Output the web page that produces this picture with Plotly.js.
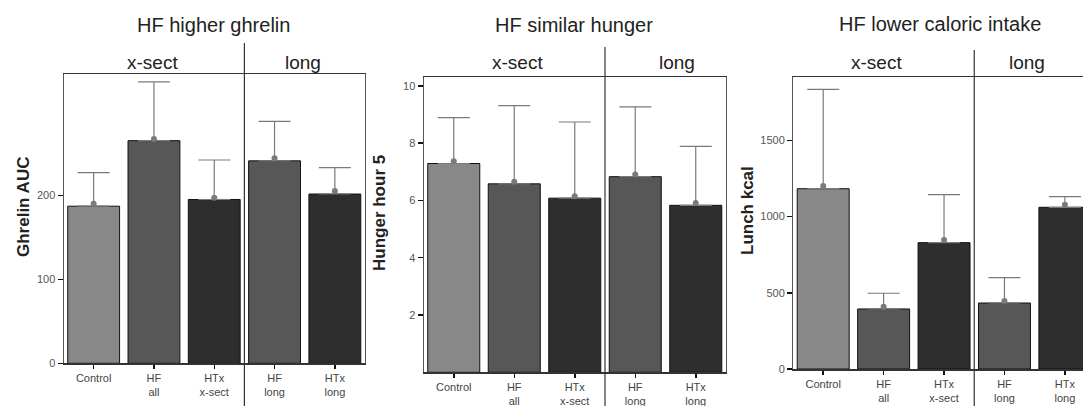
<!DOCTYPE html>
<html>
<head>
<meta charset="utf-8">
<script src="https://cdn.plot.ly/plotly-3.0.1.min.js"></script>
<style>html,body{margin:0;padding:0;background:#fff}#chart{width:1083px;height:406px}</style>
</head>
<body>
<div id="chart"></div>
<script>
const categories = ['Control', 'HF<br>all', 'HTx<br>x-sect', 'HF<br>long', 'HTx<br>long'];
const barColors = ['#888888', '#575757', '#2e2e2e', '#575757', '#2e2e2e'];

const panelTitles = ['HF higher ghrelin', 'HF similar hunger', 'HF lower caloric intake'];
const yTitles = ['Ghrelin AUC', 'Hunger hour 5', 'Lunch kcal'];
const groupLabels = ['x-sect', 'long'];

const ghrelinBar = [187, 265, 195, 241, 201.5];
const ghrelinDot = [190, 267, 197, 244, 205];
const ghrelinErrTop = [227, 335, 242, 288, 233];

const hungerBar = [7.29, 6.58, 6.08, 6.83, 5.83];
const hungerDot = [7.37, 6.65, 6.15, 6.91, 5.91];
const hungerErrTop = [8.89, 9.31, 8.74, 9.27, 7.89];

const kcalBar = [1183, 394, 829, 433, 1061];
const kcalDot = [1201, 409, 846, 446, 1078];
const kcalErrTop = [1835, 497, 1144, 599, 1131];

const yTicks = [[0, 100, 200], [2, 4, 6, 8, 10], [0, 500, 1000, 1500]];
const yRanges = [[0, 344], [0, 10.3], [0, 1914]];

const W = 1083, H = 406;
const px = v => v / W;
const py = v => (H - v) / H;

const panels = [
  {bar: ghrelinBar, dot: ghrelinDot, top: ghrelinErrTop, xd: [63.5, 365], yd: [363.3, 74.3], xr: [-0.5, 4.5],
   title: [213, 25], groups: [[152, 63], [303, 63]], ytitle: [23, 207], divTop: 43},
  {bar: hungerBar, dot: hungerDot, top: hungerErrTop, xd: [423.5, 726], yd: [372.3, 77.3], xr: [-0.5, 4.5],
   title: [574, 25], groups: [[517, 62], [677, 62]], ytitle: [379, 213], divTop: 47},
  {bar: kcalBar, dot: kcalDot, top: kcalErrTop, xd: [793, 1083], yd: [369, 77.3], xr: [-0.5, 4.3],
   title: [940, 24], groups: [[876, 62], [1027, 62]], ytitle: [747, 211], divTop: 50}
];

const FONT = 'Arial, "Liberation Sans", Helvetica, sans-serif';
const traces = [];
const layout = {
  width: W, height: H,
  margin: {l: 0, r: 0, t: 0, b: 0},
  paper_bgcolor: '#ffffff', plot_bgcolor: '#ffffff',
  showlegend: false,
  font: {family: FONT, color: '#333'},
  shapes: [], annotations: []
};

panels.forEach((p, i) => {
  const n = i === 0 ? '' : String(i + 1);
  const xa = 'x' + n, ya = 'y' + n;
  traces.push({
    type: 'bar', x: categories, y: p.bar, xaxis: xa, yaxis: ya,
    width: 0.86,
    marker: {color: barColors, line: {color: '#111', width: 1}},
    error_y: {type: 'data', symmetric: false,
      array: p.top.map((t, k) => t - p.bar[k]), arrayminus: p.bar.map(() => 0),
      color: '#7a7a7a', thickness: 1.2, width: 16},
    hoverinfo: 'skip'
  });
  traces.push({
    type: 'scatter', mode: 'markers', x: categories, y: p.dot, xaxis: xa, yaxis: ya,
    marker: {color: '#7a7a7a', size: 6}, hoverinfo: 'skip'
  });
  layout['xaxis' + n] = {
    domain: [px(p.xd[0]), Math.min(1, px(p.xd[1]))], anchor: ya, type: 'category',
    range: p.xr, showline: true, linecolor: '#333', linewidth: 1.5, mirror: true,
    ticks: 'outside', ticklen: 4, tickwidth: 1.5, tickcolor: '#111',
    tickfont: {size: 11, color: '#444', family: FONT}, showgrid: false, zeroline: false,
    fixedrange: true
  };
  layout['yaxis' + n] = {
    domain: [py(p.yd[0]), py(p.yd[1])], anchor: xa, range: yRanges[i],
    tickvals: yTicks[i], showline: true, linecolor: '#555', linewidth: 1, mirror: true,
    ticks: 'outside', ticklen: 5, tickwidth: 1.5, tickcolor: '#111',
    tickfont: {size: 11, color: '#555', family: FONT}, showgrid: false, zeroline: false,
    fixedrange: true
  };
  layout.shapes.push({type: 'line', xref: xa, yref: 'paper', x0: 2.5, x1: 2.5,
    y0: 0, y1: py(p.divTop), line: {color: '#333', width: 1.2}});
  layout.annotations.push({text: panelTitles[i], xref: 'paper', yref: 'paper',
    x: px(p.title[0]), y: py(p.title[1]), xanchor: 'center', yanchor: 'middle',
    showarrow: false, font: {size: 20, color: '#222', family: FONT}});
  groupLabels.forEach((g, k) => {
    layout.annotations.push({text: g, xref: 'paper', yref: 'paper',
      x: px(p.groups[k][0]), y: py(p.groups[k][1]), xanchor: 'center', yanchor: 'middle',
      showarrow: false, font: {size: 19, color: '#222', family: FONT}});
  });
  layout.annotations.push({text: '<b>' + yTitles[i] + '</b>', xref: 'paper', yref: 'paper',
    x: px(p.ytitle[0]), y: py(p.ytitle[1]), xanchor: 'center', yanchor: 'middle', textangle: -90,
    showarrow: false, font: {size: 17, color: '#222', family: FONT}});
});

Plotly.newPlot('chart', traces, layout, {staticPlot: true, displayModeBar: false});
</script>
</body>
</html>
